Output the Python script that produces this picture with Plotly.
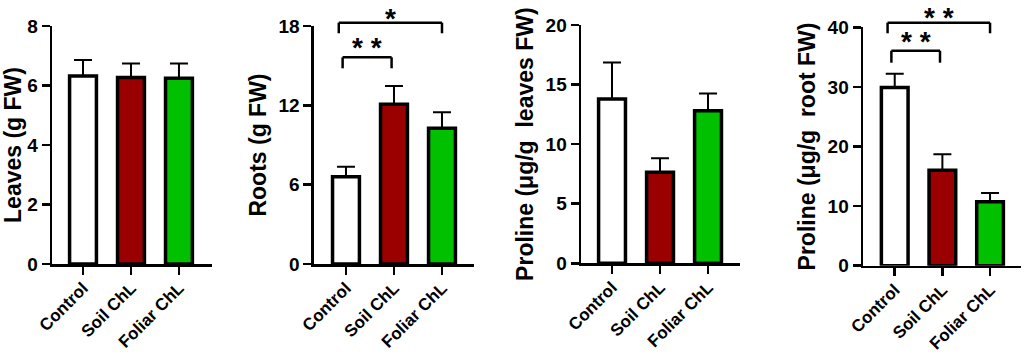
import plotly.graph_objects as go

categories = ["Control", "Soil ChL", "Foliar ChL"]
bar_colors = ["#FFFFFF", "#9A0000", "#00C000"]

leaves_fw = [6.32, 6.27, 6.24]
leaves_fw_err = [0.54, 0.47, 0.50]
roots_fw = [6.6, 12.08, 10.26]
roots_fw_err = [0.76, 1.38, 1.21]
proline_leaves = [13.78, 7.65, 12.8]
proline_leaves_err = [3.08, 1.17, 1.45]
proline_root = [29.9, 16.0, 10.74]
proline_root_err = [2.3, 2.7, 1.46]

y_titles = ["Leaves (g FW)", "Roots (g FW)",
            "Proline (\u03bcg/g\u00a0 leaves FW)", "Proline (\u03bcg/g\u00a0 root FW)"]
y_max = [8, 18, 20, 40]
y_dtick = [2, 6, 5, 10]

# significance brackets: (x_left, x_right, y_level, y_drop, label, label_top_y)
brackets_roots = [(-0.07, 0.95, 15.63, 14.8, "* *", 17.6),
                  (-0.15, 2.0, 18.25, 17.45, "*", 19.85)]
brackets_proline_root = [(-0.07, 0.95, 36.07, 34.06, "* *", 40.4),
                         (-0.15, 2.0, 40.77, 39.0, "* *", 44.4)]

panels = [
    (leaves_fw, leaves_fw_err, []),
    (roots_fw, roots_fw_err, brackets_roots),
    (proline_leaves, proline_leaves_err, []),
    (proline_root, proline_root_err, brackets_proline_root),
]

x_domains = [[0.0508, 0.2070], [0.3066, 0.4629], [0.5674, 0.7227], [0.8428, 0.9971]]
x_ranges = [[-0.646, 2.688], [-0.667, 2.667], [-0.646, 2.667], [-0.665, 2.65]]
y_domains = [[0.2584, 0.9270], [0.2584, 0.9270], [0.2604, 0.9298], [0.2537, 0.9233]]

FONT = "Liberation Sans, Arial, sans-serif"
fig = go.Figure()
layout = dict(
    width=1024, height=356,
    margin=dict(l=0, r=0, t=0, b=0, autoexpand=False),
    paper_bgcolor="white", plot_bgcolor="white",
    showlegend=False,
    font=dict(family=FONT, color="black"),
)
shapes = []
annotations = []

for i, (vals, errs, brs) in enumerate(panels):
    n = "" if i == 0 else str(i + 1)
    xa, ya = "x" + n, "y" + n
    xs = list(range(len(categories)))
    fig.add_trace(go.Bar(
        x=xs, y=vals, xaxis=xa, yaxis=ya, width=0.56,
        marker=dict(color=bar_colors, line=dict(color="black", width=3.5)),
        error_y=dict(type="data", array=errs, arrayminus=[0] * len(errs),
                     color="black", thickness=2, width=9),
        hoverinfo="skip",
    ))
    layout["xaxis" + n] = dict(
        domain=x_domains[i], range=x_ranges[i], anchor=ya, automargin=False,
        tickmode="array", tickvals=xs, ticktext=categories, tickangle=-45,
        ticks="outside", ticklen=8, tickwidth=2.5, tickcolor="black",
        ticklabelstandoff=-3,
        showline=True, linewidth=2.5, linecolor="black",
        showgrid=False, zeroline=False, fixedrange=True,
        tickfont=dict(family=FONT, size=17, color="black", weight="bold"),
    )
    layout["yaxis" + n] = dict(
        domain=y_domains[i], range=[0, y_max[i]], anchor=xa, automargin=False,
        tickmode="linear", tick0=0, dtick=y_dtick[i],
        ticks="outside", ticklen=8, tickwidth=2.5, tickcolor="black",
        showline=True, linewidth=2.5, linecolor="black",
        showgrid=False, zeroline=False, fixedrange=True,
        tickfont=dict(family=FONT, size=19, color="black", weight="bold"),
        title=dict(text=y_titles[i], standoff=6,
                   font=dict(family=FONT, size=23, color="black", weight="bold")),
    )
    for (x0, x1, yl, yd, lab, ly) in brs:
        m = y_max[i]
        for (ax0, ay0, ax1, ay1) in [(x0, yd, x0, yl), (x0, yl, x1, yl), (x1, yl, x1, yd)]:
            shapes.append(dict(type="line", xref=xa, yref=ya + " domain",
                               x0=ax0, x1=ax1, y0=ay0 / m, y1=ay1 / m,
                               line=dict(color="black", width=2.5)))
        annotations.append(dict(text=lab, xref=xa, yref=ya + " domain",
                                x=(x0 + x1) / 2, y=ly / m, showarrow=False,
                                xanchor="center", yanchor="top", borderpad=0,
                                font=dict(family=FONT, size=28, color="black", weight="bold")))

layout["shapes"] = shapes
layout["annotations"] = annotations
fig.update_layout(**layout)
fig.write_html("out.html",
               config={"displayModeBar": False, "staticPlot": True},
               post_script="document.body.style.margin='0';document.body.style.overflow='hidden';")
